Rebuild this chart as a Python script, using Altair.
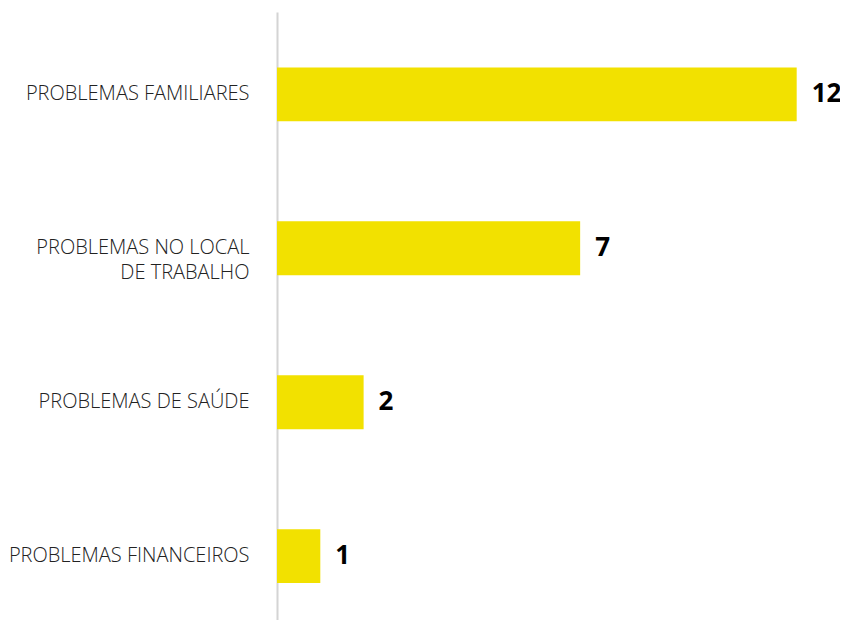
import altair as alt
import pandas as pd

categories = ["PROBLEMAS FAMILIARES", "PROBLEMAS NO LOCAL|DE TRABALHO", "PROBLEMAS DE SAÚDE", "PROBLEMAS FINANCEIROS"]
values = [12, 7, 2, 1]

df = pd.DataFrame({"cat": categories, "val": values})

y = alt.Y(
    "cat:N",
    sort=categories,
    title=None,
    scale=alt.Scale(paddingInner=0.65, paddingOuter=0.3, align=0.6),
    axis=alt.Axis(
        domainColor="#d4d4d4",
        domainWidth=2,
        ticks=False,
        labelPadding=28,
        labelFont="Open Sans",
        labelFontWeight=300,
        labelFontSize=20,
        labelColor="#222222",
        labelLineHeight=25,
        labelLimit=300,
        labelExpr="split(datum.label, '|')",
    ),
)
x = alt.X("val:Q", scale=alt.Scale(domain=[0, 13]), axis=None)

bars = alt.Chart(df).mark_bar(color="#f2e100").encode(x=x, y=y)
text = alt.Chart(df).mark_text(
    align="left", baseline="middle", dx=15, font="Open Sans", fontWeight="bold", fontSize=26, color="#000000"
).encode(x=x, y=y, text="val:Q")

chart = (bars + text).properties(
    width=563,
    height=608,
    padding={"left": 269, "top": 4, "right": 0, "bottom": 0},
    autosize="none",
).configure_view(stroke=None)

chart.save("out.html", embed_options={"renderer": "svg", "actions": False})
